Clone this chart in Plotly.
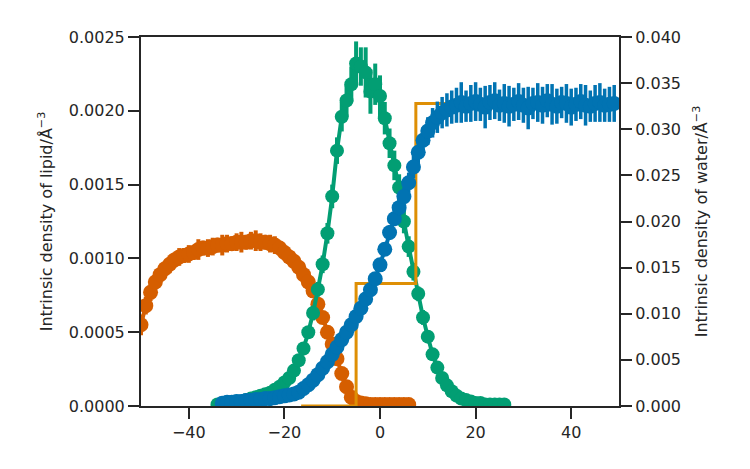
import plotly.graph_objects as go

# ---------------- data ----------------
# lipid tails (left axis)
tail_x = list(range(-50, 7))
tail_y = [0.00055, 0.00068, 0.00077, 0.00084, 0.00089, 0.00093, 0.00096, 0.00099, 0.00101, 0.00102,
          0.00103, 0.00104, 0.00106, 0.00107, 0.00107, 0.00108, 0.00109, 0.00109, 0.00110, 0.00110,
          0.00111, 0.00111, 0.00111, 0.00112, 0.00112, 0.00111, 0.00111, 0.00110, 0.00109, 0.00107,
          0.00104, 0.00101, 0.00098, 0.00094, 0.00089, 0.00084, 0.00078, 0.00069, 0.00060, 0.00050,
          0.00042, 0.00032, 0.00022, 0.00013, 0.00006, 0.00003, 0.00002, 0.000015, 0.00001, 0.00001,
          0.00001, 0.00001, 0.00001, 0.00001, 0.00001, 0.00001, 0.00001]
tail_err = [0.00007, 0.00006, 0.00006, 0.00005, 0.00006, 0.00005, 0.00006, 0.00005, 0.00006, 0.00005,
            0.00006, 0.00005, 0.00007, 0.00005, 0.00006, 0.00006, 0.00005, 0.00007, 0.00006, 0.00005,
            0.00006, 0.00007, 0.00005, 0.00006, 0.00007, 0.00006, 0.00005, 0.00006, 0.00006, 0.00005,
            0.00005, 0.00005, 0.00004, 0.00004, 0.00004, 0.00004, 0.00003, 0.00003, 0.00003, 0.00003,
            0.00002, 0.00002, 0.00002, 0.00001, 0.00001, 0.00001, 0.00001, 0.00001, 0.00001, 0.00001,
            0.00001, 0.00001, 0.00001, 0.00001, 0.00001, 0.00001, 0.00001]

# lipid heads (left axis)
head_x = list(range(-34, 27))
head_y = [0.00001, 0.00001, 0.00002, 0.00002, 0.00003, 0.00003, 0.00004, 0.00005, 0.00006, 0.00007,
          0.00008, 0.00009, 0.00011, 0.00013, 0.00016, 0.00019, 0.00024, 0.00031, 0.00039, 0.00050,
          0.00063, 0.00079, 0.00096, 0.00117, 0.00142, 0.00173, 0.00196, 0.00207, 0.00218, 0.00232,
          0.00230, 0.00226, 0.00213, 0.00218, 0.00210, 0.00195, 0.00178, 0.00163, 0.00148, 0.00125,
          0.00108, 0.00091, 0.00076, 0.00060, 0.00047, 0.00035, 0.00026, 0.00019, 0.00014, 0.00010,
          0.00007, 0.00005, 0.00004, 0.00003, 0.00002, 0.00002, 0.00001, 0.00001, 0.00001, 0.00001,
          0.00001]
head_err = [0.00001, 0.00001, 0.00001, 0.00001, 0.00001, 0.00001, 0.00001, 0.00001, 0.00001, 0.00001,
            0.00002, 0.00002, 0.00002, 0.00002, 0.00002, 0.00003, 0.00003, 0.00003, 0.00004, 0.00004,
            0.00005, 0.00005, 0.00006, 0.00007, 0.00008, 0.00009, 0.00010, 0.00011, 0.00012, 0.00015,
            0.00013, 0.00017, 0.00015, 0.00014, 0.00014, 0.00011, 0.00010, 0.00010, 0.00009, 0.00008,
            0.00007, 0.00006, 0.00005, 0.00005, 0.00004, 0.00003, 0.00003, 0.00002, 0.00002, 0.00002,
            0.00001, 0.00001, 0.00001, 0.00001, 0.00001, 0.00001, 0.00001, 0.00001, 0.00001, 0.00001,
            0.00001]

# water (right axis)
water_x = list(range(-33, 51))
water_y = [0.0003, 0.0004, 0.0004, 0.0005, 0.0005, 0.0006, 0.0006, 0.0007, 0.0007, 0.0008,
           0.0008, 0.0009, 0.0010, 0.0011, 0.0012, 0.0013, 0.0015, 0.0019, 0.0023, 0.0028,
           0.0034, 0.0041, 0.0048, 0.0056, 0.0064, 0.0072, 0.0080, 0.0088, 0.0097, 0.0106,
           0.0116, 0.0126, 0.0138, 0.0153, 0.0170, 0.0188, 0.0203, 0.0215, 0.0227, 0.0242,
           0.0259, 0.0275, 0.0288, 0.0298, 0.0307, 0.0313, 0.0318, 0.0321, 0.0324,
           0.0326, 0.0329, 0.0325, 0.0328, 0.0330, 0.0327, 0.0324, 0.0329, 0.0331, 0.0326,
           0.0328, 0.0325, 0.0327, 0.0330, 0.0326, 0.0323, 0.0328, 0.0329, 0.0326, 0.0331,
           0.0327, 0.0325, 0.0329, 0.0328, 0.0324, 0.0327, 0.0330, 0.0326, 0.0325, 0.0328,
           0.0329, 0.0326, 0.0327, 0.0328]
water_err = [0.0001, 0.0001, 0.0001, 0.0001, 0.0001, 0.0001, 0.0001, 0.0001, 0.0001, 0.0001,
             0.0001, 0.0001, 0.0002, 0.0002, 0.0002, 0.0002, 0.0002, 0.0003, 0.0003, 0.0003,
             0.0003, 0.0003, 0.0004, 0.0004, 0.0004, 0.0004, 0.0005, 0.0005, 0.0005, 0.0005,
             0.0006, 0.0006, 0.0006, 0.0007, 0.0007, 0.0008, 0.0008, 0.0009, 0.0010, 0.0011,
             0.0012, 0.0013, 0.0014, 0.0015, 0.0016, 0.0017, 0.0017, 0.0018, 0.0018,
             0.0019, 0.0022, 0.0017, 0.0020, 0.0021, 0.0018, 0.0023, 0.0019, 0.0020, 0.0017,
             0.0021, 0.0022, 0.0018, 0.0020, 0.0019, 0.0023, 0.0017, 0.0021, 0.0020, 0.0018,
             0.0022, 0.0019, 0.0017, 0.0021, 0.0020, 0.0018, 0.0019, 0.0022, 0.0017, 0.0020,
             0.0021, 0.0018, 0.0019, 0.0020]

# step profile (left axis)
step_x = [-16.5, -5.0, 7.5, 16.0]
step_y = [0.0, 0.00083, 0.00205, 0.00205]

# axis ticks
x_ticks = [-40, -20, 0, 20, 40]
y1_ticks = [0.0, 0.0005, 0.0010, 0.0015, 0.0020, 0.0025]
y2_ticks = [0.000, 0.005, 0.010, 0.015, 0.020, 0.025, 0.030, 0.035, 0.040]

C_TAIL = "#d55e00"
C_HEAD = "#029e73"
C_WATER = "#0173b2"
C_STEP = "#de8f05"
AX = "#262626"
FONT = "DejaVu Sans"
FS = 16

fig = go.Figure()

fig.add_trace(go.Scatter(
    x=tail_x, y=tail_y, mode="lines+markers", yaxis="y",
    line=dict(color=C_TAIL, width=4), marker=dict(color=C_TAIL, size=15),
    error_y=dict(type="data", array=tail_err, color=C_TAIL, thickness=4, width=0),
    showlegend=False))

fig.add_trace(go.Scatter(
    x=head_x, y=head_y, mode="lines+markers", yaxis="y",
    line=dict(color=C_HEAD, width=4), marker=dict(color=C_HEAD, size=14),
    error_y=dict(type="data", array=head_err, color=C_HEAD, thickness=4, width=0),
    showlegend=False))

fig.add_trace(go.Scatter(
    x=step_x, y=step_y, mode="lines", yaxis="y", line_shape="hv",
    line=dict(color=C_STEP, width=3), showlegend=False))

fig.add_trace(go.Scatter(
    x=water_x, y=water_y, mode="lines+markers", yaxis="y2",
    line=dict(color=C_WATER, width=4), marker=dict(color=C_WATER, size=15),
    error_y=dict(type="data", array=water_err, color=C_WATER, thickness=3.5, width=0),
    showlegend=False))

axis_common = dict(
    showgrid=False, zeroline=False, showline=True, linecolor=AX, linewidth=2,
    ticks="outside", ticklen=11, tickwidth=2, tickcolor=AX,
    tickfont=dict(family=FONT, size=FS, color=AX),
)

fig.update_layout(
    width=750, height=469,
    margin=dict(l=141, r=131, t=37, b=63),
    paper_bgcolor="white", plot_bgcolor="white",
    font=dict(family=FONT, color=AX),
    xaxis=dict(range=[-50, 50], tickvals=x_ticks, ticktext=["\u221240", "\u221220", "0", "20", "40"],
               mirror=True, **axis_common),
    yaxis=dict(range=[0, 0.0025], tickvals=y1_ticks,
               ticktext=[f"{v:.4f}" for v in y1_ticks],
               title=dict(text="Intrinsic density of lipid/Å<sup>\u22123</sup>",
                          font=dict(family=FONT, size=FS, color=AX), standoff=12),
               **axis_common),
    yaxis2=dict(range=[0, 0.040], tickvals=y2_ticks,
                ticktext=[f"{v:.3f}" for v in y2_ticks],
                overlaying="y", side="right",
                title=dict(text="Intrinsic density of water/Å<sup>\u22123</sup>",
                           font=dict(family=FONT, size=FS, color=AX), standoff=16),
                **axis_common),
)

fig.write_html("out.html")
